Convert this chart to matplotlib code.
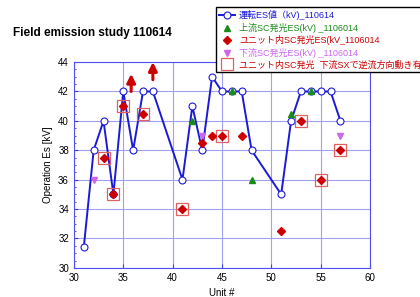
import matplotlib
matplotlib.use("Agg")
import matplotlib.pyplot as plt
from matplotlib.ticker import MultipleLocator

plt.rcParams['font.family'] = ['Liberation Sans', 'Noto Sans CJK JP', 'DejaVu Sans']

# operation Es (blue line)
op_unit = [31, 32, 33, 34, 35, 36, 37, 38, 41, 42, 43, 44, 45, 46, 47, 48,
           51, 52, 53, 54, 55, 56, 57]
op_es = [31.4, 38, 40, 35, 42, 38, 42, 42, 36, 41, 38, 43, 42, 42, 42, 38,
         35, 40, 42, 42, 42, 42, 40]

# upstream SC emission
up_unit = [42, 46, 48, 52, 54]
up_es = [40, 42, 36, 40.5, 42]

# in-unit SC emission
in_unit = [33, 34, 35, 37, 41, 43, 44, 45, 47, 51, 53, 55, 57]
in_es = [37.5, 35, 41, 40.5, 34, 38.5, 39, 39, 39, 32.5, 40, 36, 38]

# downstream SC emission
down_unit = [32, 43, 57]
down_es = [36, 39, 39]

# in-unit SC emission, backflow seen on downstream SX
back_unit = [33, 34, 35, 37, 41, 45, 53, 55, 57]
back_es = [37.5, 35, 41, 40.5, 34, 39, 40, 36, 38]

# arrows (above range)
arrow_unit = [35.8, 38.0]
arrow_lo = [42.0, 42.8]
arrow_hi = [43.2, 44.0]

labels = ["運転ES値（kV)_110614",
          "上流SC発光ES(kV) _1106014",
          "ユニット内SC発光ES(kV_1106014",
          "下流SC発光ES(kV) _1106014",
          "ユニット内SC発光  下流SXで逆流方向動き有"]


def main():
    fig = plt.figure(figsize=(4.2, 2.97), dpi=100)
    ax = fig.add_axes([0.176, 0.098, 0.705, 0.693])

    ax.grid(True, color='#a0a0f0', lw=0.8)
    ax.set_axisbelow(True)

    l1, = ax.plot(op_unit, op_es, '-o', color='#1a1ad8', lw=1.4, ms=5,
                  mfc='white', mec='#1a1ad8', mew=0.8, zorder=3)
    l2, = ax.plot(up_unit, up_es, '^', color='#1a8a1a', ms=5, ls='none', zorder=5)
    l5, = ax.plot(back_unit, back_es, 's', ms=8, mfc='none', mec='#e06060',
                  mew=0.9, ls='none', zorder=4)
    l3, = ax.plot(in_unit, in_es, 'D', color='#cc0000', ms=4.5, ls='none', zorder=6)
    l4, = ax.plot(down_unit, down_es, 'v', color='#cc66ee', ms=5, ls='none', zorder=5)

    for x, lo, hi in zip(arrow_unit, arrow_lo, arrow_hi):
        ax.annotate('', xy=(x, hi), xytext=(x, lo),
                    arrowprops=dict(arrowstyle='-|>,head_width=0.25,head_length=0.5',
                                    lw=2.2, color='#cc0000',
                                    shrinkA=0, shrinkB=0))

    ax.set_xlim(30, 60)
    ax.set_ylim(30, 44)
    ax.xaxis.set_major_locator(MultipleLocator(5))
    ax.yaxis.set_major_locator(MultipleLocator(2))
    ax.yaxis.set_minor_locator(MultipleLocator(0.5))
    ax.tick_params(direction='in', labelsize=7, color='#4040e0', length=3)
    ax.tick_params(which='minor', direction='in', color='#4040e0', length=1.5)
    for s in ax.spines.values():
        s.set_color('#5050f0')
    ax.set_xlabel("Unit #", fontsize=7)
    ax.set_ylabel("Operation Es [kV]", fontsize=7)

    fig.text(0.03, 0.88, "Field emission study 110614", fontsize=8.5,
             fontweight='bold')

    leg = fig.legend([l1, l2, l3, l4, l5], labels, loc='upper left',
                     bbox_to_anchor=(0.515, 0.975), fontsize=6.5, frameon=True,
                     fancybox=False, edgecolor='black', framealpha=1,
                     handlelength=1.8, handletextpad=0.4, labelspacing=0.28,
                     borderpad=0.3, borderaxespad=0)
    colors = ['#1a1ad8', '#1a8a1a', '#cc0000', '#cc66ee', '#cc0000']
    for t, c in zip(leg.get_texts(), colors):
        t.set_color(c)

    fig.savefig("out.png", dpi=100)


if __name__ == "__main__":
    main()
